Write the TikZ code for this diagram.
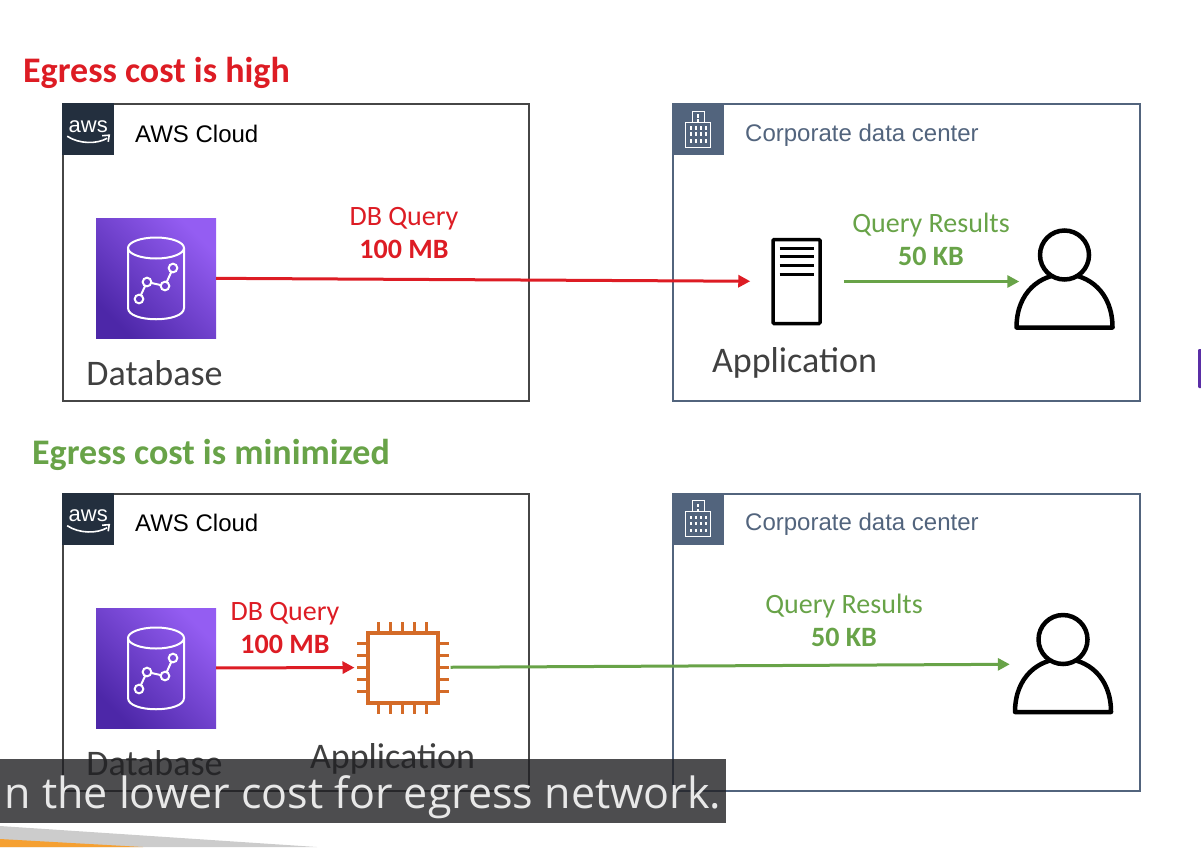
\documentclass[tikz,border=0pt]{standalone}
\usepackage{fontspec}
\usepackage{xcolor}
\setmainfont{Carlito}
\newfontfamily\arialfont{Liberation Sans}
\newfontfamily\capfont{Open Sans}
\usetikzlibrary{arrows.meta}
\definecolor{awsdark}{RGB}{35,47,62}
\definecolor{corpslate}{RGB}{82,100,125}
\definecolor{boxgray}{RGB}{70,70,70}
\definecolor{costred}{RGB}{221,28,36}
\definecolor{costgreen}{RGB}{104,163,72}
\definecolor{labelgray}{RGB}{64,64,64}
\definecolor{dbdark}{RGB}{77,39,168}
\definecolor{dblight}{RGB}{148,93,242}
\definecolor{chiporange}{RGB}{212,107,40}
\definecolor{capbarfill}{RGB}{32,32,35}
\definecolor{capwhite}{RGB}{232,232,232}
\definecolor{wedgegray}{RGB}{204,204,204}
\definecolor{wedgeorange}{RGB}{245,160,50}
\definecolor{sliverpurple}{RGB}{90,46,166}

\begin{document}
\begin{tikzpicture}[
  x=1pt, y=-1pt,
  awsbox/.style={rectangle, draw=boxgray, line width=2pt,
                 minimum width=466pt, minimum height=297pt},
  corpbox/.style={rectangle, draw=corpslate, line width=2pt,
                  minimum width=467pt, minimum height=297pt},
  awsbadge/.style={rectangle, fill=awsdark, minimum size=52pt, anchor=north west, inner sep=0pt},
  corpbadge/.style={rectangle, fill=corpslate, minimum size=52pt, anchor=north west, inner sep=0pt},
  dbnode/.style={rectangle, minimum size=120pt, inner sep=0pt,
                 bottom color=dbdark, top color=dblight, shading angle=-45},
  servernode/.style={rectangle, draw=black, line width=3.5pt, fill=white, rounded corners=1pt,
                     minimum width=47pt, minimum height=84pt, inner sep=0pt},
  chipnode/.style={rectangle, draw=chiporange, line width=4pt, fill=white,
                   minimum size=70pt, inner sep=0pt},
  usernode/.style={rectangle, minimum width=100pt, minimum height=100pt, inner sep=0pt},
  boxlbl/.style={font=\arialfont\fontsize{24}{28}\selectfont, inner sep=0pt, anchor=west},
  complbl/.style={font=\fontsize{36}{40}\selectfont, text=labelgray, inner sep=0pt},
  redlbl/.style={font=\fontsize{28}{33}\selectfont, text=costred, align=center, inner sep=0pt},
  greenlbl/.style={font=\fontsize{28}{33}\selectfont, text=costgreen, align=center, inner sep=0pt},
  redarr/.style={-{Triangle[length=12pt,width=12pt]}, line width=3pt, draw=costred},
  greenarr/.style={-{Triangle[length=12pt,width=12pt]}, line width=3pt, draw=costgreen},
  capbar/.style={rectangle, fill=capbarfill, fill opacity=0.8, text opacity=1, text=capwhite,
                 minimum width=726pt, minimum height=64pt, inner sep=0pt,
                 text height=44pt, text depth=10pt,
                 font=\capfont\fontsize{43}{50}\selectfont},
  dbglyph/.pic={
    \draw[white, line width=2pt] (0,-30) ellipse [x radius=28pt, y radius=10.5pt];
    \draw[white, line width=2pt] (-28,-30) -- (-28,30)
      .. controls (-28,45) and (28,45) .. (28,30) -- (28,-30);
    \foreach \px/\py in {17/-10, 9/8, -9/4, -17/21}
      \draw[white, line width=2pt] (\px,\py) circle (4.3pt);
    \draw[white, line width=2pt, shorten <=4.3pt, shorten >=4.3pt] (17,-10) -- (9,8);
    \draw[white, line width=2pt, shorten <=4.3pt, shorten >=4.3pt] (9,8) -- (-9,4);
    \draw[white, line width=2pt, shorten <=4.3pt, shorten >=4.3pt] (-9,4) -- (-17,21);
  },
  awsglyph/.pic={
    \node[text=white, inner sep=0pt, font=\arialfont\fontsize{22}{22}\selectfont] at (0,-3) {aws};
    \draw[white, line width=1.6pt] (-21,7) .. controls (-9,15) and (9,15) .. (19,9);
    \draw[white, line width=1.6pt] (14,6.5) -- (21,6) -- (20,12.5);
  },
  corpglyph/.pic={
    \draw[white, line width=1pt] (-12.5,18) rectangle (12.5,-7);
    \draw[white, line width=1pt] (-5.5,-7) -- (-5.5,-18) -- (6,-18) -- (6,-7);
    \foreach \wx in {-8,-3,2,7}
      \foreach \wy in {-3,3,10}
        \fill[white] (\wx,\wy) rectangle ++(1.4,3.5);
    \foreach \wy in {-15,-10}
      \fill[white] (-1,\wy) rectangle ++(1.4,3.5);
  },
  userglyph/.pic={
    \draw[black, line width=4.5pt, line join=round] (-48,48)
      .. controls (-48,-23) and (48,-23) .. (48,48) -- cycle;
    \draw[black, line width=4.5pt, fill=white] (0,-24.5) circle (24.5pt);
  },
  serverglyph/.pic={
    \foreach \ly in {-33,-25,-16,-7}
      \draw[black, line width=3pt] (-17,\ly) -- (17,\ly);
  },
  chipglyph/.pic={
    \foreach \pinx in {-24,-12,0,12,24} {
      \draw[chiporange, line width=3.5pt] (\pinx,-35) -- (\pinx,-46);
      \draw[chiporange, line width=3.5pt] (\pinx,35) -- (\pinx,46);
      \draw[chiporange, line width=3.5pt] (-35,\pinx) -- (-46,\pinx);
      \draw[chiporange, line width=3.5pt] (35,\pinx) -- (46,\pinx);
    }
  }
]
\useasboundingbox (0,0) rectangle (1201,847);

% Titles
\node[inner sep=0pt, text=costred, font=\bfseries\fontsize{36}{40}\selectfont] (titleA) at (156.5,73) {Egress cost is high};
\node[inner sep=0pt, text=costgreen, font=\bfseries\fontsize{36}{40}\selectfont] (titleB) at (211,455) {Egress cost is minimized};

% Upper row
\node[awsbox] (awsA) at (296,252.5) {};
\node[corpbox] (corpA) at (906.5,252.5) {};
\node[awsbadge] (badgeA) at (awsA.north west) {};
\pic at (badgeA) {awsglyph};
\node[corpbadge] (bldgA) at (corpA.north west) {};
\pic at (bldgA) {corpglyph};
\node[boxlbl] (awsnameA) at (135,134) {AWS Cloud};
\node[boxlbl, text=corpslate] (corpnameA) at (745,135) {Corporate data center};

\node[dbnode] (dbA) at (156,278) {};
\pic at (dbA) {dbglyph};
\node[complbl] (dblblA) at (154.5,373) {Database};
\node[servernode] (serverA) at (796.5,281.5) {};
\pic at (serverA) {serverglyph};
\node[complbl] (applblA) at (794.5,363) {Application};
\node[usernode] (userA) at (1064.5,279.5) {};
\pic at (userA) {userglyph};
\node[redlbl] (reqlblA) at (404,233) {DB Query\\\textbf{100 MB}};
\node[greenlbl] (reslblA) at (931,239.5) {Query Results\\\textbf{50 KB}};

% Lower row
\node[awsbox] (awsB) at (296,642) {};
\node[corpbox] (corpB) at (906.5,642) {};
\node[awsbadge] (badgeB) at (awsB.north west) {};
\pic at (badgeB) {awsglyph};
\node[corpbadge] (bldgB) at (corpB.north west) {};
\pic at (bldgB) {corpglyph};
\node[boxlbl] (awsnameB) at (135,523) {AWS Cloud};
\node[boxlbl, text=corpslate] (corpnameB) at (745,524) {Corporate data center};

\node[dbnode] (dbB) at (156,668) {};
\pic at (dbB) {dbglyph};
\node[complbl] (dblblB) at (154.5,763) {Database};
\node[chipnode] (chipB) at (402.5,667.5) {};
\pic at (chipB) {chipglyph};
\node[complbl] (applblB) at (392.5,759) {Application};
\node[usernode] (userB) at (1063,664) {};
\pic at (userB) {userglyph};
\node[redlbl] (reqlblB) at (285,627.5) {DB Query\\\textbf{100 MB}};
\node[greenlbl] (reslblB) at (844,620.5) {Query Results\\\textbf{50 KB}};

% Arrows
\draw[redarr, shorten >=21pt] (dbA) -- (serverA);
\draw[greenarr, shorten <=22pt, shorten >=-5pt] (serverA) -- (serverA -| userA.west);
\draw[redarr, shorten >=11pt] (dbB) -- (chipB);
\draw[greenarr, shorten <=11pt, shorten >=3pt] (chipB) -- (userB);

% Video overlay
\fill[wedgegray] (0,826) -- (317,847) -- (0,847) -- cycle;
\fill[wedgeorange] (0,839) -- (143,847) -- (0,847) -- cycle;
\node[capbar] (capA) at (363,791) {n the lower cost for egress network.};
\fill[sliverpurple, rounded corners=1pt] (1198,349) rectangle (1203,388);

\end{tikzpicture}
\end{document}
